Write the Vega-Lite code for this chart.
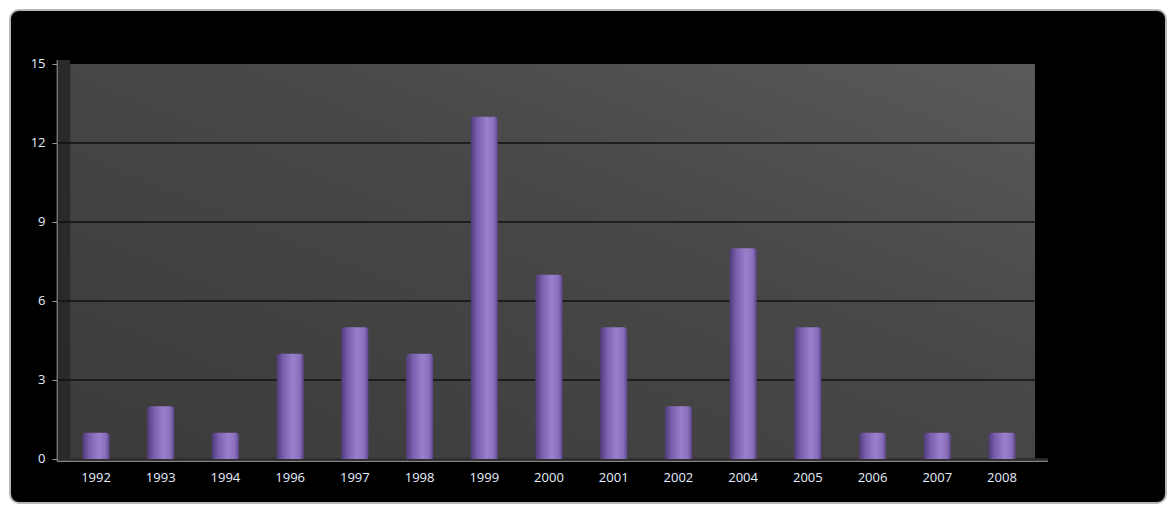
{
  "$schema": "https://vega.github.io/schema/vega-lite/v6.json",
  "width": 1156,
  "height": 493,
  "autosize": {"type": "none"},
  "padding": {"left": 10, "top": 10, "right": 7, "bottom": 7},
  "background": "#ffffff",
  "config": {
    "view": {"fill": "#000000", "cornerRadius": 9, "stroke": "#b8b8b8", "strokeWidth": 2},
    "font": "Open Sans"
  },
  "datasets": {
    "counts": [
      {"year": "1992", "i": 0, "count": 1},
      {"year": "1993", "i": 1, "count": 2},
      {"year": "1994", "i": 2, "count": 1},
      {"year": "1996", "i": 3, "count": 4},
      {"year": "1997", "i": 4, "count": 5},
      {"year": "1998", "i": 5, "count": 4},
      {"year": "1999", "i": 6, "count": 13},
      {"year": "2000", "i": 7, "count": 7},
      {"year": "2001", "i": 8, "count": 5},
      {"year": "2002", "i": 9, "count": 2},
      {"year": "2004", "i": 10, "count": 8},
      {"year": "2005", "i": 11, "count": 5},
      {"year": "2006", "i": 12, "count": 1},
      {"year": "2007", "i": 13, "count": 1},
      {"year": "2008", "i": 14, "count": 1}
    ],
    "grid": [{"v": 3}, {"v": 6}, {"v": 9}, {"v": 12}]
  },
  "layer": [
    {
      "data": {"values": [{}]},
      "mark": {"type": "rect", "fill": "#2a2a2a"},
      "encoding": {
        "x": {"datum": -0.6, "type": "quantitative", "scale": {"domain": [-1.329, 16.535], "nice": false, "zero": false, "padding": 0}, "axis": null},
        "x2": {"datum": -0.4},
        "y": {"datum": 0, "type": "quantitative", "scale": {"domain": [-1.671, 17.05], "nice": false, "zero": false, "padding": 0},
          "axis": {"values": [0, 3, 6, 9, 12, 15], "offset": -47, "domain": false, "grid": false, "tickSize": 5, "tickColor": "#9a9a9a", "labelColor": "#e6efff", "labelFontSize": 13, "labelPadding": 7, "title": null, "labelFont": "Open Sans"}},
        "y2": {"datum": 15.15}
      }
    },
    {
      "data": {"values": [{}]},
      "mark": {"type": "rect", "fill": {"gradient": "linear", "x1": 0, "y1": 1, "x2": 1, "y2": 0, "stops": [{"offset": 0, "color": "#3b3b3b"}, {"offset": 0.6, "color": "#484848"}, {"offset": 1, "color": "#5a5a5a"}]}},
      "encoding": {
        "x": {"datum": -0.4, "type": "quantitative"},
        "x2": {"datum": 14.51},
        "y": {"datum": 0, "type": "quantitative"},
        "y2": {"datum": 15}
      }
    },
    {
      "data": {"name": "grid"},
      "mark": {"type": "rule", "color": "#111111", "strokeWidth": 1.5},
      "encoding": {
        "x": {"datum": -0.6, "type": "quantitative"},
        "x2": {"datum": 14.51},
        "y": {"field": "v", "type": "quantitative"}
      }
    },
    {
      "data": {"values": [{}]},
      "mark": {"type": "rect", "fill": "#2c2c2c"},
      "encoding": {
        "x": {"datum": -0.6, "type": "quantitative"},
        "x2": {"datum": 14.71},
        "y": {"datum": -0.09, "type": "quantitative"},
        "y2": {"datum": 0.03}
      }
    },
    {
      "data": {"values": [{}]},
      "mark": {"type": "rule", "color": "#9a9a9a", "strokeWidth": 1},
      "encoding": {
        "x": {"datum": -0.6, "type": "quantitative"},
        "x2": {"datum": 14.71},
        "y": {"datum": -0.09, "type": "quantitative"}
      }
    },
    {
      "data": {"values": [{}]},
      "mark": {"type": "rule", "color": "#9a9a9a", "strokeWidth": 1},
      "encoding": {
        "x": {"datum": -0.6, "type": "quantitative"},
        "y": {"datum": -0.09, "type": "quantitative"},
        "y2": {"datum": 15.15}
      }
    },
    {
      "data": {"name": "counts"},
      "mark": {"type": "bar", "width": 27, "cornerRadiusTopLeft": 3, "cornerRadiusTopRight": 3,
        "fill": {"gradient": "linear", "x1": 0, "y1": 0, "x2": 1, "y2": 0, "stops": [{"offset": 0, "color": "#4f3b78"}, {"offset": 0.25, "color": "#7a5fae"}, {"offset": 0.6, "color": "#9a7fcb"}, {"offset": 0.85, "color": "#8a6fbd"}, {"offset": 1, "color": "#5e4689"}]}},
      "encoding": {
        "x": {"field": "i", "type": "quantitative"},
        "y": {"field": "count", "type": "quantitative"},
        "y2": {"datum": 0},
        "tooltip": [{"field": "year"}, {"field": "count"}]
      }
    },
    {
      "data": {"name": "counts"},
      "mark": {"type": "text", "color": "#e6efff", "fontSize": 13, "baseline": "middle", "align": "center", "font": "Open Sans"},
      "encoding": {
        "x": {"field": "i", "type": "quantitative"},
        "y": {"datum": -0.72, "type": "quantitative"},
        "text": {"field": "year"}
      }
    }
  ]
}
